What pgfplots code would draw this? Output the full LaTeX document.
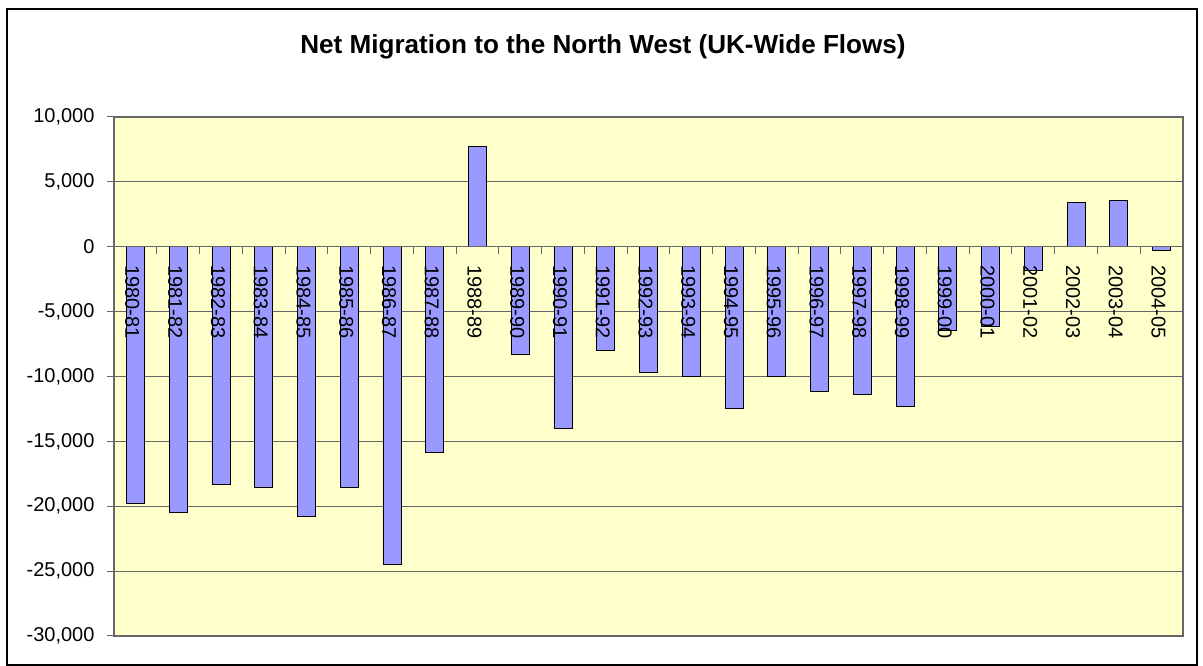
\documentclass[border=0pt]{standalone}
\usepackage{pgfplots}
\pgfplotsset{compat=1.18}
\usepackage{fontspec}
\setmainfont{Liberation Sans}
\definecolor{barfill}{HTML}{9999FF}
\definecolor{plotbg}{HTML}{FFFFCC}
\definecolor{gridc}{HTML}{666666}
\pgfplotsset{
  common/.style={
    at={(114bp,30bp)}, anchor=south west,
    width=1069bp, height=519bp, scale only axis,
    xmin=-0.5, xmax=24.5, ymin=-30000, ymax=10000,
    /pgf/number format/assume math mode=true,
  },
}
\begin{document}
\begin{tikzpicture}[x=1bp,y=1bp]
\path[use as bounding box] (0,0) rectangle (1203,666);
\draw[black, line width=1.5bp] (7,1) rectangle (1197,657);
\node[font=\fontsize{26.1bp}{31bp}\selectfont\bfseries, anchor=base] at (603,612.7) {Net Migration to the North West (UK-Wide Flows)};
\begin{axis}[
  common,
  axis x line=none, axis y line=left,
  axis line style={-, gridc, line width=1bp},
  axis background/.style={fill=plotbg, draw=gridc, line width=1.2bp},
  ytick={-30000,-25000,...,10000},
  scaled y ticks=false,
  ymajorgrids, major grid style={gridc, line width=1bp},
  y tick style={gridc, line width=1bp}, ytick align=outside, major tick length=7bp,
  yticklabel style={font=\fontsize{20bp}{24bp}\selectfont, /pgf/number format/fixed, /pgf/number format/1000 sep={,}, xshift=-9bp},
]
\addplot[ybar, bar width=18bp, bar shift=0pt, fill=barfill, draw=black, line width=0.8bp] coordinates {
(0,-19800) (1,-20450) (2,-18300) (3,-18530) (4,-20800) (5,-18530) (6,-24500) (7,-15850)
(8,7700) (9,-8280) (10,-14000) (11,-8000) (12,-9660) (13,-10000) (14,-12460) (15,-10000)
(16,-11180) (17,-11400) (18,-12330) (19,-6470) (20,-6120) (21,-1800) (22,3390) (23,3550) (24,-285)
};
\end{axis}
\begin{axis}[
  common,
  axis x line=middle, axis y line=none,
  axis line style={-, gridc, line width=1bp},
  xtick={-0.5,0.5,...,24.5}, xticklabels={},
  x tick style={gridc, line width=1bp}, xtick align=outside, major tick length=7bp,
  extra x ticks={0,1,...,24},
  extra x tick labels={1980-81,1981-82,1982-83,1983-84,1984-85,1985-86,1986-87,1987-88,1988-89,1989-90,1990-91,1991-92,1992-93,1993-94,1994-95,1995-96,1996-97,1997-98,1998-99,1999-00,2000-01,2001-02,2002-03,2003-04,2004-05},
  extra x tick style={major tick length=0pt, xticklabel style={font=\fontsize{20bp}{24bp}\selectfont, xshift=-3bp, yshift=-15bp, rotate=-90, anchor=west}},
]
\end{axis}
\end{tikzpicture}
\end{document}
